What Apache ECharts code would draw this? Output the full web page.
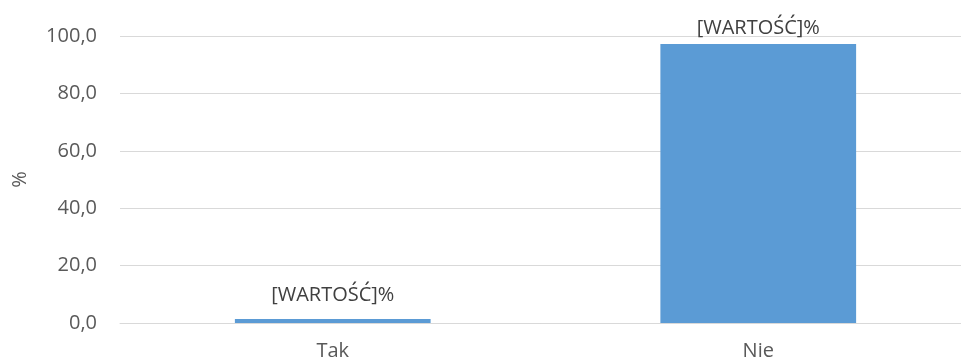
<!DOCTYPE html>
<html>
<head>
<meta charset="utf-8">
<script src="https://cdn.jsdelivr.net/npm/echarts@6/dist/echarts.min.js"></script>
<style>html,body{margin:0;padding:0;background:#fff;}#c{width:961px;height:363px;}</style>
</head>
<body>
<div id="c"></div>
<script>
const categories = ['Tak', 'Nie'];
const values = [1.4, 97.2];
const labelTexts = ['[WARTOŚĆ]%', '[WARTOŚĆ]%'];
const yTicks = [0, 20, 40, 60, 80, 100];

const font = '"Open Sans", sans-serif';
const txt = '#595959';
const chart = echarts.init(document.getElementById('c'), null, {renderer: 'canvas'});
chart.setOption({
  animation: false,
  backgroundColor: '#ffffff',
  grid: {left: 120, top: 36, width: 851, height: 287, containLabel: false, outerBoundsMode: 'none'},
  xAxis: {
    type: 'category',
    data: categories,
    axisLine: {show: true, lineStyle: {color: '#d9d9d9', width: 1}},
    axisTick: {show: false},
    axisLabel: {color: txt, fontFamily: font, fontSize: 20, margin: 18}
  },
  yAxis: {
    type: 'value',
    min: yTicks[0],
    max: yTicks[yTicks.length - 1],
    interval: 20,
    name: '%',
    nameLocation: 'middle',
    nameGap: 90,
    nameRotate: 90,
    nameTextStyle: {color: txt, fontFamily: font, fontSize: 20},
    axisLine: {show: false},
    axisTick: {show: false},
    splitLine: {lineStyle: {color: '#d9d9d9', width: 1}},
    axisLabel: {
      color: txt, fontFamily: font, fontSize: 20, margin: 23,
      formatter: v => v.toFixed(1).replace('.', ',')
    }
  },
  series: [{
    type: 'bar',
    data: values.map((v, i) => ({
      value: v,
      label: {offset: [0, i === 0 ? -8 : 0]}
    })),
    barWidth: '46%',
    itemStyle: {color: '#5b9bd5'},
    label: {
      show: true,
      position: 'top',
      distance: 6,
      color: '#404040',
      fontFamily: font,
      fontSize: 20,
      formatter: p => labelTexts[p.dataIndex]
    }
  }]
});
</script>
</body>
</html>
